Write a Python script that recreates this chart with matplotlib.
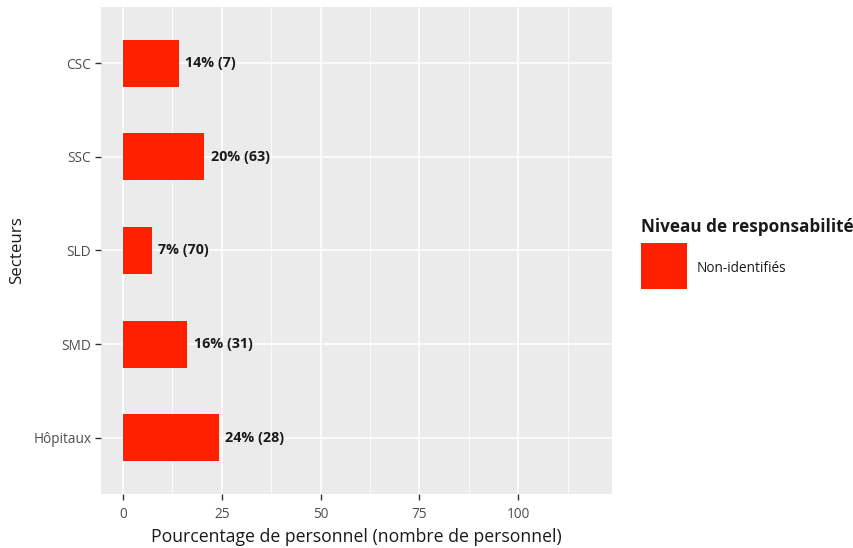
import matplotlib
matplotlib.use("Agg")
import matplotlib.pyplot as plt
from matplotlib.patches import Rectangle
from matplotlib.ticker import MultipleLocator

plt.rcParams['font.family'] = ['Open Sans', 'DejaVu Sans']

# data
secteurs = ["Hôpitaux", "SMD", "SLD", "SSC", "CSC"]
pourcentages = [24.3, 16.3, 7.3, 20.6, 14.1]
etiquettes = ["24% (28)", "16% (31)", "7% (70)", "20% (63)", "14% (7)"]
legende_titre = "Niveau de responsabilité"
legende_label = "Non-identifiés"
rouge = "#FF2000"

fig = plt.figure(figsize=(8.54, 5.48), dpi=100)
ax = fig.add_axes([101 / 854, 54 / 548, 511 / 854, 487 / 548])
ax.set_facecolor("#EBEBEB")

y = list(range(len(secteurs)))
ax.barh(y, pourcentages, height=0.5, color=rouge, zorder=3)
for yi, v, lab in zip(y, pourcentages, etiquettes):
    ax.annotate(lab, (v, yi), xytext=(4.5, 0), textcoords="offset points",
                ha="left", va="center", fontsize=10.3, fontweight="bold",
                color="#1A1A1A", zorder=4)

ax.set_xlim(-5.57, 123.7)
ax.set_ylim(-0.6, len(secteurs) - 0.4)
ax.xaxis.set_major_locator(MultipleLocator(25))
ax.xaxis.set_minor_locator(MultipleLocator(12.5))
ax.set_yticks(y)
ax.set_yticklabels(secteurs)

ax.grid(which="major", color="white", linewidth=1.1, zorder=0)
ax.grid(which="minor", axis="x", color="white", linewidth=0.55, zorder=0)
ax.set_axisbelow(True)
for s in ax.spines.values():
    s.set_visible(False)
ax.tick_params(which="major", length=4, width=1, color="#333333",
               labelsize=9.8, labelcolor="#4D4D4D")
ax.tick_params(axis="x", pad=5)
ax.tick_params(axis="y", pad=3)
ax.tick_params(which="minor", length=0)

ax.set_xlabel("Pourcentage de personnel (nombre de personnel)", fontsize=12.7,
              color="#1A1A1A", labelpad=5)
ax.set_ylabel("Secteurs", fontsize=12.2, color="#1A1A1A", labelpad=6)

# legend drawn by hand, ggplot style
fig.text(641 / 854, 1 - 227 / 548, legende_titre, fontsize=12.35,
         fontweight="bold", color="#1A1A1A", ha="left", va="center")
fig.patches.append(Rectangle((641 / 854, 1 - 289 / 548), 46 / 854, 46 / 548,
                             transform=fig.transFigure, facecolor=rouge,
                             edgecolor="none"))
fig.text(697 / 854, 1 - 268 / 548, legende_label, fontsize=9.8,
         color="#1A1A1A", ha="left", va="center")

fig.savefig("out.png", dpi=100)
